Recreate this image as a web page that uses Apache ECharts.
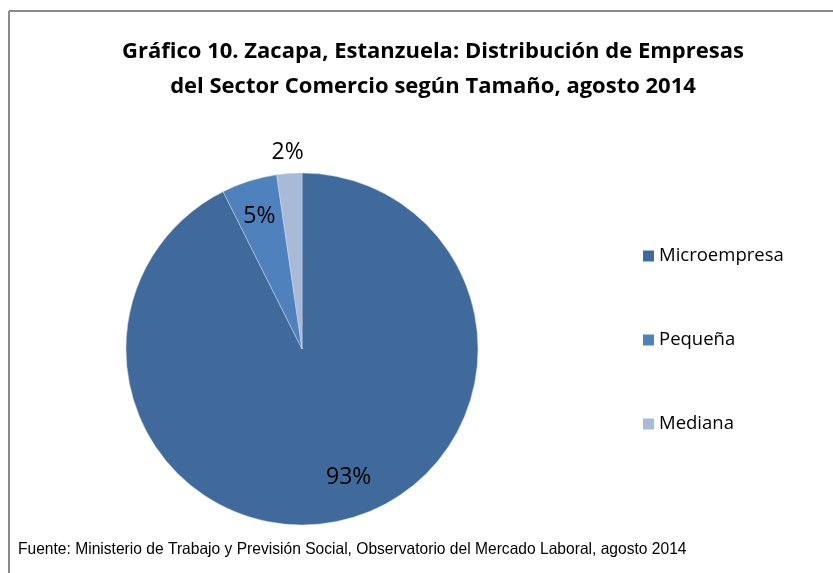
<!DOCTYPE html>
<html>
<head>
<meta charset="utf-8">
<script src="https://cdn.jsdelivr.net/npm/echarts@6/dist/echarts.min.js"></script>
<style>
  html, body { margin: 0; padding: 0; background: #fff; }
  #main { width: 833px; height: 573px; }
</style>
</head>
<body>
<div id="main"></div>
<script>
  // datos
  var categorias = ['Microempresa', 'Pequeña', 'Mediana'];
  var valores = [92.6, 5.1, 2.3];
  var colores = ['#416a9c', '#4f81bd', '#a9bad9'];

  var titulo = 'Gráfico 10. Zacapa, Estanzuela: Distribución de Empresas\ndel Sector Comercio según Tamaño, agosto 2014';
  var fuente = 'Fuente: Ministerio de Trabajo y Previsión Social, Observatorio del Mercado Laboral, agosto 2014';

  var myChart = echarts.init(document.getElementById('main'));

  var datos = categorias.map(function (c, i) {
    return { name: c, value: valores[i], itemStyle: { color: colores[i] } };
  });

  // series transparentes solo para colocar las etiquetas como en Excel
  function etiquetas(radio, mostrar) {
    return {
      type: 'pie',
      center: [302, 349],
      radius: [0, radio],
      startAngle: 90,
      clockwise: true,
      silent: true,
      animation: false,
      itemStyle: { color: 'rgba(0,0,0,0)' },
      label: {
        show: true,
        position: 'inside',
        formatter: function (p) { return mostrar.indexOf(p.dataIndex) >= 0 ? Math.round(p.value) + '%' : ''; },
        color: '#000',
        fontFamily: 'Open Sans',
        fontSize: 23
      },
      labelLayout: function (p) {
        // Excel coloca la etiqueta grande un poco a la derecha del centro del sector
        return p.dataIndex === 0 ? { dx: 14, dy: -10 } : { dy: 3 };
      },
      labelLine: { show: false },
      data: categorias.map(function (c, i) { return { name: c, value: valores[i] }; })
    };
  }

  var option = {
    backgroundColor: '#fff',
    animation: false,
    title: {
      text: titulo,
      left: 428,
      top: 29,
      textAlign: 'center',
      textStyle: {
        fontFamily: 'Open Sans',
        fontWeight: 'bold',
        fontSize: 22,
        lineHeight: 35,
        color: '#000'
      }
    },
    legend: {
      orient: 'vertical',
      left: 643,
      top: 246,
      padding: 0,
      itemWidth: 11,
      itemHeight: 11,
      itemGap: 64,
      icon: 'rect',
      itemStyle: { borderWidth: 0 },
      data: categorias,
      selectedMode: false,
      textStyle: { fontFamily: 'Open Sans', fontSize: 18.5, lineHeight: 20, color: '#000' }
    },
    graphic: [
      { type: 'line', shape: { x1: 9, y1: 11, x2: 833, y2: 11 }, style: { stroke: '#8a8a8a', lineWidth: 2 } },
      { type: 'line', shape: { x1: 9, y1: 11, x2: 9, y2: 573 }, style: { stroke: '#8a8a8a', lineWidth: 2 } },
      {
        type: 'text', x: 18, y: 541, scaleX: 0.945,
        style: { text: fuente, fontFamily: 'Liberation Sans, Arial, sans-serif', fontSize: 16.5, fill: '#000' }
      }
    ],
    series: [
      {
        name: 'Empresas',
        type: 'pie',
        center: [302, 349],
        radius: [0, 176],
        startAngle: 90,
        clockwise: true,
        animation: false,
        itemStyle: { borderColor: '#c9d5e6', borderWidth: 0.5 },
        label: { show: false },
        labelLine: { show: false },
        data: datos
      },
      etiquetas(278, [0, 1]),
      etiquetas(394, [2])
    ]
  };

  myChart.setOption(option);
  window.addEventListener('resize', () => myChart.resize());
</script>
</body>
</html>
